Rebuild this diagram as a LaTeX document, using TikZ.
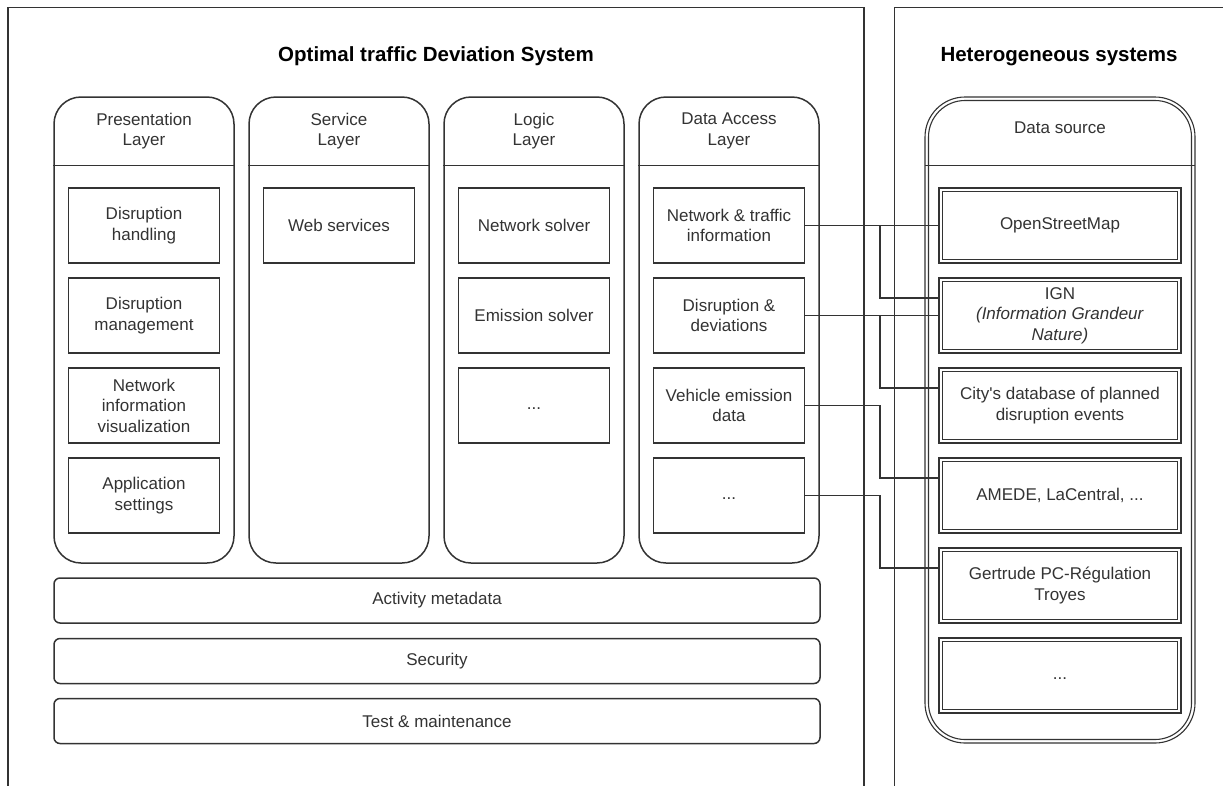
\documentclass[tikz,border=0pt]{standalone}
\usepackage{fontspec}
\setmainfont{Liberation Sans}
\usetikzlibrary{calc}
\definecolor{ln}{HTML}{333333}
\definecolor{tx}{HTML}{333333}
\newcommand{\sq}{{\XeTeXglyph\XeTeXcharglyph"27\relax}}
\newcommand{\dotsline}{\vphantom{Wg}...}
\tikzset{
  every node/.style={font=\fontsize{17}{20.5}\selectfont, text=tx, align=center, inner sep=0pt},
  frame/.style={draw=ln, line width=1.5pt},
  lane/.style={draw=ln, line width=1.5pt, rounded corners=27pt, minimum width=180pt, minimum height=466pt},
  inbox/.style={draw=ln, line width=1.5pt, minimum width=151pt, minimum height=75pt},
  bar/.style={draw=ln, line width=1.5pt, rounded corners=6pt, minimum width=766pt, minimum height=45pt},
  dslane/.style={draw=ln, line width=1.1pt, outer sep=0pt, rounded corners=40pt, minimum width=270pt, minimum height=646pt},
  dsbox/.style={draw=ln, line width=1.1pt, outer sep=0pt, minimum width=242pt, minimum height=75pt},
  thin/.style={draw=ln, line width=1.1pt},
  conn/.style={draw=ln, line width=1.5pt},
  hdr/.style={draw=ln, line width=1.5pt},
  ttl/.style={font=\bfseries\fontsize{20.5}{24}\selectfont, text=black}
}
\begin{document}
\begin{tikzpicture}[x=1pt, y=-1pt]
\useasboundingbox (0,0) rectangle (1223,785);
\clip (0,0) rectangle (1223,785);
\fill[white] (0,0) rectangle (1223,785);
% frames
\draw[frame] (8,800) -- (8,7.5) -- (864,7.5) -- (864,800);
\draw[frame] (894.5,800) -- (894.5,7.5) -- (1240,7.5);
\node[ttl] (t1) at (436,56.5) {Optimal traffic Deviation System};
\node[ttl] (t2) at (1059,56.5) {Heterogeneous systems};
\coordinate (hl) at (0,165.5);
\coordinate (jx) at (880,0);
% lanes
\node[lane] (pl) at (144,330) {};
\node[lane] (sl) at (339,330) {};
\node[lane] (ll) at (534,330) {};
\node[lane] (dl) at (729,330) {};
\foreach \n in {pl,sl,ll,dl} {\draw[hdr] (\n.west |- hl) -- (\n.east |- hl);}
\node (plh) at (144,131) {Presentation\\Layer};
\node (slh) at (339,131) {Service\\Layer};
\node (llh) at (534,131) {Logic\\Layer};
\node (dlh) at (729,131) {Data Access\\Layer};
% presentation
\node[inbox] (dh) at (144,225.5) {Disruption\\handling};
\node[inbox] (dm) at (144,315.5) {Disruption\\management};
\node[inbox] (niv) at (144,405.5) {Network\\information\\visualization};
\node[inbox] (as) at (144,495.5) {Application\\settings};
% service
\node[inbox] (ws) at (339,225.5) {Web services};
% logic
\node[inbox] (ns) at (534,225.5) {Network solver};
\node[inbox] (es) at (534,315.5) {Emission solver};
\node[inbox] (lx) at (534,405.5) {\dotsline};
% data access
\node[inbox] (nti) at (729,225.5) {Network \& traffic\\information};
\node[inbox] (dd) at (729,315.5) {Disruption \&\\deviations};
\node[inbox] (ved) at (729,405.5) {Vehicle emission\\data};
\node[inbox] (dx) at (729,495.5) {\dotsline};
% bars
\node[bar] (am) at (437,600.5) {Activity metadata};
\node[bar] (sec) at (437,661) {Security};
\node[bar] (tm) at (437,721) {Test \& maintenance};
% data source
\node[dslane] (dsl) at (1060,420) {};
\draw[thin, rounded corners=36.5pt] ($(dsl.south west)+(3.5,-3.5)$) rectangle ($(dsl.north east)+(-3.5,3.5)$);
\draw[hdr] (dsl.west |- hl) -- (dsl.east |- hl);
\node (dsh) at (1060,128) {Data source};
\node[dsbox] (osm) at (1060,225.5) {OpenStreetMap};
\node[dsbox] (ign) at (1060,315.5) {IGN\\\textit{(Information Grandeur}\\\textit{Nature)}};
\node[dsbox] (city) at (1060,405.5) {City\sq s database of planned\\disruption events};
\node[dsbox] (amede) at (1060,495.5) {AMEDE, LaCentral, ...};
\node[dsbox] (gert) at (1060,585.5) {Gertrude PC-Régulation\\Troyes};
\node[dsbox] (dsx) at (1060,675.5) {\dotsline};
\foreach \n in {osm,ign,city,amede,gert,dsx} {\draw[thin] ($(\n.south west)+(3.5,-3.5)$) rectangle ($(\n.north east)+(-3.5,3.5)$);}
% connectors
\coordinate (ignA) at ($(ign.west)+(0,-17.5)$);
\coordinate (cityA) at ($(city.west)+(0,-17.5)$);
\coordinate (amA) at ($(amede.west)+(0,-17.5)$);
\coordinate (geA) at ($(gert.west)+(0,-17.5)$);
\draw[conn] (nti.east) -- (osm.west);
\draw[conn] (nti.east) -- (nti.east -| jx) |- (ignA);
\draw[conn] (dd.east) -- (ign.west);
\draw[conn] (dd.east) -- (dd.east -| jx) |- (cityA);
\draw[conn] (ved.east) -- (ved.east -| jx) |- (amA);
\draw[conn] (dx.east) -- (dx.east -| jx) |- (geA);
\end{tikzpicture}
\end{document}
